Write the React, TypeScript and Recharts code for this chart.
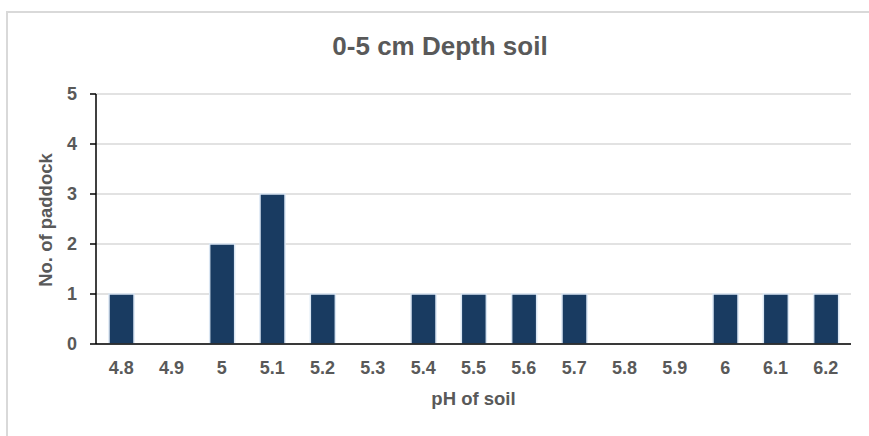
import React from "react";
import { BarChart, Bar, XAxis, YAxis, CartesianGrid } from "recharts";

const phLabels = ["4.8", "4.9", "5", "5.1", "5.2", "5.3", "5.4", "5.5", "5.6", "5.7", "5.8", "5.9", "6", "6.1", "6.2"];
const paddockCounts = [1, 0, 2, 3, 1, 0, 1, 1, 1, 1, 0, 0, 1, 1, 1];
const yTicks = [0, 1, 2, 3, 4, 5];
const chartTitle = "0-5 cm Depth soil";
const xTitle = "pH of soil";
const yTitle = "No. of paddock";

const data = phLabels.map((ph, i) => ({ ph, count: paddockCounts[i] }));

const FONT = "'Liberation Sans', Arial, sans-serif";
const TEXT = "#595959";

export default function App() {
  return (
    <div style={{ position: "absolute", left: 0, top: 0, width: 869, height: 436, overflow: "hidden", background: "#fff", fontFamily: FONT }}>
      <div style={{ position: "absolute", left: 6, top: 11, width: 900, height: 460, border: "2px solid #d9d9d9", boxSizing: "border-box" }} />
      <div style={{ position: "absolute", left: 0, width: 880, top: 30, textAlign: "center", fontSize: 26, fontWeight: 700, color: TEXT, lineHeight: "32px" }}>
        {chartTitle}
      </div>
      <div style={{ position: "absolute", left: 96, width: 755, top: 388, textAlign: "center", fontSize: 18.5, fontWeight: 700, color: TEXT, lineHeight: "22px" }}>
        {xTitle}
      </div>
      <div style={{ position: "absolute", left: 46, top: 220, width: 0, height: 0 }}>
        <div style={{ position: "absolute", left: -100, top: -11, width: 200, textAlign: "center", fontSize: 18.5, fontWeight: 700, color: TEXT, lineHeight: "22px", transform: "rotate(-90deg)" }}>
          {yTitle}
        </div>
      </div>
      <div style={{ position: "absolute", left: 0, top: 0 }}>
        <BarChart width={869} height={436} data={data} margin={{ top: 94, right: 18, bottom: 0, left: 0 }}>
          <CartesianGrid vertical={false} stroke="#d9d9d9" strokeWidth={1.5} />
          <XAxis
            dataKey="ph"
            height={92}
            interval={0}
            tickLine={false}
            tickSize={0}
            tickMargin={17}
            axisLine={{ stroke: "#000", strokeWidth: 1.5 }}
            tick={{ fill: TEXT, fontSize: 18, fontWeight: 700, fontFamily: FONT }}
          />
          <YAxis
            width={96}
            domain={[0, 5]}
            ticks={yTicks}
            interval={0}
            tickSize={6}
            tickMargin={13}
            axisLine={{ stroke: "#000", strokeWidth: 1.5 }}
            tickLine={{ stroke: "#000", strokeWidth: 1.5 }}
            tick={{ fill: TEXT, fontSize: 18, fontWeight: 700, fontFamily: FONT }}
          />
          <Bar dataKey="count" fill="#193B61" stroke="#DAE6F3" strokeWidth={1.5} barSize={25} isAnimationActive={false} />
        </BarChart>
      </div>
    </div>
  );
}
